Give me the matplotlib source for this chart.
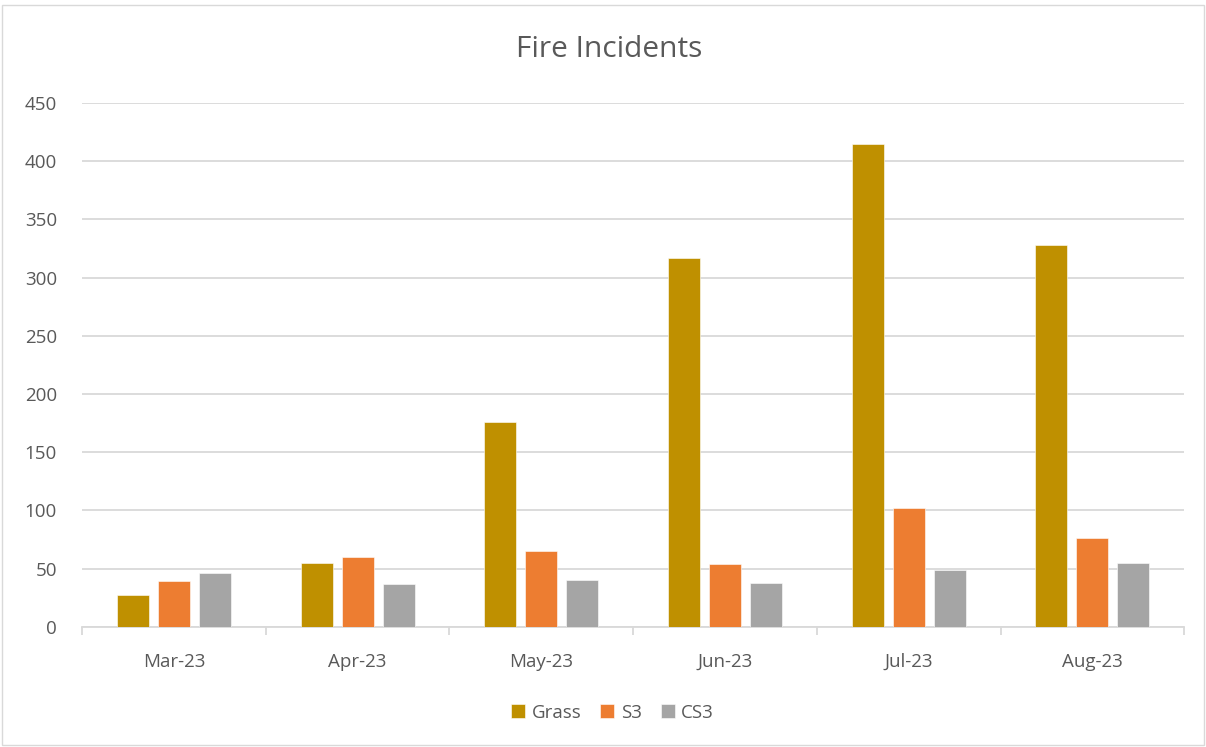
import matplotlib
matplotlib.use("Agg")
import matplotlib.pyplot as plt
from matplotlib.patches import Rectangle
from matplotlib.ticker import FixedLocator
import numpy as np

categories = ["Mar-23", "Apr-23", "May-23", "Jun-23", "Jul-23", "Aug-23"]
grass = [27, 55, 176, 317, 415, 328]
s3 = [39, 60, 65, 54, 102, 76]
cs3 = [46, 37, 40, 38, 49, 55]
series_names = ["Grass", "S3", "CS3"]
colors = ["#BF9000", "#ED7D31", "#A5A5A5"]
yticks = [0, 50, 100, 150, 200, 250, 300, 350, 400, 450]

plt.rcParams['font.family'] = ['Open Sans', 'DejaVu Sans']
txt = "#595959"
grid = "#D9D9D9"

fig = plt.figure(figsize=(12.06, 7.47), dpi=100)
fig.patches.append(Rectangle((0.002, 0.003), 0.996, 0.99, transform=fig.transFigure,
                             fill=False, edgecolor=grid, linewidth=1))
ax = fig.add_axes([0.068, 0.161, 0.914, 0.701])

x = np.arange(len(categories))
bw = 0.174
step = 0.223
for i, (vals, name, c) in enumerate(zip([grass, s3, cs3], series_names, colors)):
    ax.bar(x + (i - 1) * step, vals, width=bw, color=c, label=name,
           edgecolor="white", linewidth=0.4, zorder=3)

ax.set_xlim(-0.5, len(categories) - 0.5)
ax.set_ylim(0, 450)
ax.set_yticks(yticks)
ax.yaxis.grid(True, color=grid, linewidth=1.3, zorder=0)
ax.set_xticks(x)
ax.set_xticklabels(categories)
ax.xaxis.set_minor_locator(FixedLocator(np.arange(-0.5, len(categories), 1.0)))
ax.tick_params(axis='x', which='major', length=0, pad=19, labelsize=13.5, labelcolor=txt)
ax.tick_params(axis='x', which='minor', length=6, width=1.3, color=grid, direction='out')
ax.tick_params(axis='y', length=0, pad=18, labelsize=13.5, labelcolor=txt)
for sp in ["top", "right", "left"]:
    ax.spines[sp].set_visible(False)
ax.spines["bottom"].set_color(grid)
ax.spines["bottom"].set_linewidth(1.3)

fig.text(0.505, 0.934, "Fire Incidents", ha="center", va="center", fontsize=21.5, color=txt)

leg = fig.legend(loc="center", bbox_to_anchor=(0.508, 0.046), ncol=3, frameon=False,
                 fontsize=13.5, handlelength=0.75, handleheight=0.75, handletextpad=0.35,
                 columnspacing=1.0)
for t in leg.get_texts():
    t.set_color(txt)

fig.savefig("out.png", dpi=100)
